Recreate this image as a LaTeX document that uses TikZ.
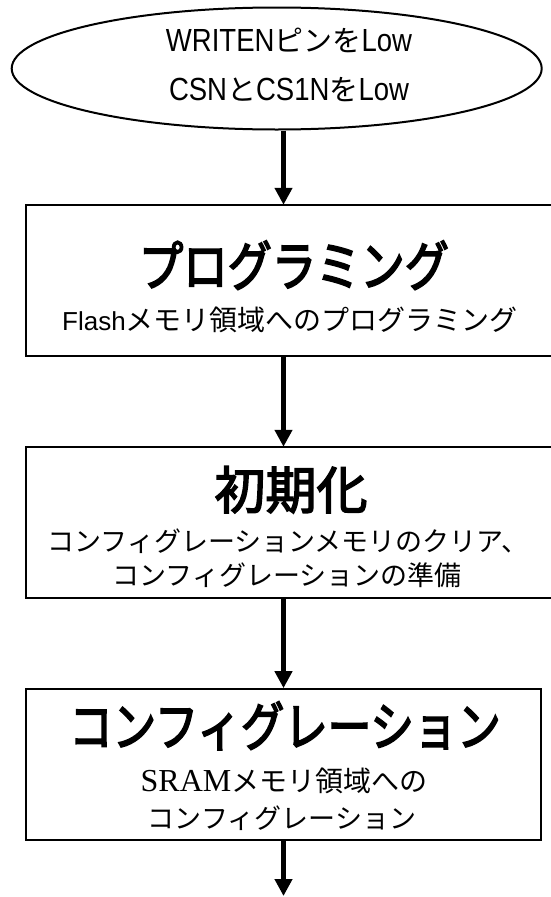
\documentclass[tikz,border=0pt]{standalone}
\usepackage{fontspec}
\setmainfont{Liberation Sans}
\newfontfamily\jp{Noto Sans CJK JP}
\newfontfamily\jpt[FakeStretch=0.82,FakeBold=3]{Noto Sans CJK JP}
\newfontfamily\jpk[FakeBold=3]{Noto Sans CJK JP}
\newfontfamily\latn[FakeStretch=0.86]{Liberation Sans}
\newfontfamily\srf{Liberation Serif}
\usetikzlibrary{shapes.geometric,arrows.meta}
\tikzset{
  startnode/.style={ellipse, draw, line width=2pt, minimum width=530pt, minimum height=122pt, inner sep=0pt},
  boxnode/.style={rectangle, minimum width=515pt, minimum height=151pt, inner sep=0pt},
  boxline/.style={line width=2.3pt},
  flow/.style={line width=4.8pt, -{Triangle[width=17pt,length=17pt]}},
  ellt/.style={inner sep=0pt, anchor=base, font=\fontsize{29}{34}\selectfont},
  ttl/.style={inner sep=0pt, anchor=base, font=\jpt\fontsize{54}{60}\selectfont},
  ttlk/.style={inner sep=0pt, anchor=base, font=\jpk\fontsize{51}{56}\selectfont},
  subt/.style={inner sep=0pt, anchor=base, font=\jp\fontsize{27}{32}\selectfont},
}
\begin{document}
\begin{tikzpicture}[x=1pt,y=-1pt]
\useasboundingbox (0,0) rectangle (551,897);
\clip (0,0) rectangle (551,897);
\fill[white] (0,0) rectangle (551,897);

% start ellipse
\node[startnode] (start) at (276.7,68.5) {};
\node[ellt] (s1) at (289,51) {{\latn\fontsize{32}{34}\selectfont WRITEN}{\jp ピンを}{\latn\fontsize{32}{34}\selectfont Low}};
\node[ellt] (s2) at (289,100) {{\latn\fontsize{32}{34}\selectfont CSN}{\jp と}{\latn\fontsize{32}{34}\selectfont CS1N}{\jp を}{\latn\fontsize{32}{34}\selectfont Low}};

% box 1 (open to the right edge)
\node[boxnode] (b1) at (283.5,280.5) {};
\draw[boxline] ([xshift=30pt]b1.north east) -- (b1.north west) -- (b1.south west) -- ([xshift=30pt]b1.south east);
\node[ttl] (b1t) at (294,286) {プログラミング};
\node[subt, font=\jp\fontsize{28}{32}\selectfont] (b1s) at (290,330) {{\fontsize{26}{32}\selectfont\rmfamily Flash}メモリ領域へのプログラミング};

% box 2 (open to the right edge)
\node[boxnode] (b2) at (283.5,522.5) {};
\draw[boxline] ([xshift=30pt]b2.north east) -- (b2.north west) -- (b2.south west) -- ([xshift=30pt]b2.south east);
\node[ttlk] (b2t) at (291,509) {初期化};
\node[subt] (b2s1) at (288,551) {コンフィグレーションメモリのクリア、};
\node[subt] (b2s2) at (287,585) {コンフィグレーションの準備};

% box 3
\node[boxnode, draw, line width=1.7pt] (b3) at (283.5,764.5) {};
\node[ttl, font=\jpt\fontsize{53}{60}\selectfont] (b3t) at (285,746) {コンフィグレーション};
\node[subt] (b3s1) at (284,791) {{\srf\fontsize{32}{32}\selectfont SRAM}{\fontsize{28}{32}\selectfont メモリ領域への}};
\node[subt] (b3s2) at (282,828) {コンフィグレーション};

\coordinate (endpt) at (283.5,896);

\draw[flow] (start.south -| b1.north) -- (b1.north);
\draw[flow] (b1.south) -- (b2.north);
\draw[flow] (b2.south) -- (b3.north);
\draw[flow] (b3.south) -- (endpt);
\end{tikzpicture}
\end{document}
